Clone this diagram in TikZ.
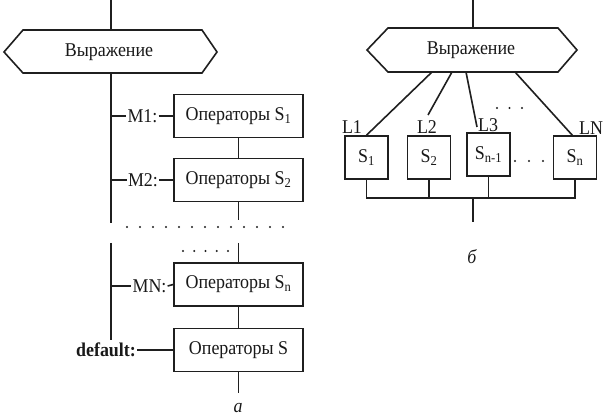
\documentclass[tikz,border=0pt]{standalone}
\usepackage{fontspec}
\setmainfont{Liberation Serif}[FakeStretch=0.92]
\begin{document}
\begin{tikzpicture}[x=1pt,y=-1pt,
  ink/.style={draw=black!88, line width=1.6pt},
  conn/.style={ink},
  opbox/.style={ink, rectangle, minimum width=129pt, minimum height=43pt, inner sep=0pt, font=\fontsize{19.5}{21}\selectfont, text=black!90},
  sbox/.style={ink, rectangle, minimum width=43pt, minimum height=43pt, inner sep=0pt, font=\fontsize{19.5}{21}\selectfont, text=black!90},
  lbl/.style={font=\fontsize{19.5}{21}\selectfont, inner sep=1pt, text=black!90},
  caplbl/.style={font=\fontsize{19.5}{21}\selectfont\itshape, inner sep=0pt, text=black!90},
  dots/.style={draw=black!88, line width=2.4pt, line cap=round}]
\fill[white] (0,0) rectangle (614,419);
\useasboundingbox (0,0) rectangle (614,419);

% ---------- left diagram (a) ----------
\coordinate (t1) at (111,0);
\path (4,52) coordinate (h1w) (23,30) coordinate (h1nw) (202,30) coordinate (h1ne)
      (217,52) coordinate (h1e) (202,73) coordinate (h1se) (23,73) coordinate (h1sw);
\draw[ink] (h1w) -- (h1nw) -- (h1ne) -- (h1e) -- (h1se) -- (h1sw) -- cycle;
\node[lbl] (e1) at (109,52) {Выражение};
\coordinate (h1t) at (111,30);
\coordinate (h1b) at (111,73);
\draw[conn] (t1) -- (h1t);
\coordinate (v1a) at (111,223);
\draw[conn] (h1b) -- (v1a);
\coordinate (v1b) at (111,243);
\coordinate (v1c) at (111,340);
\draw[conn] (v1b) -- (v1c);

\node[opbox] (s1) at (238.5,116) {Операторы S\textsubscript{1}};
\node[opbox] (s2) at (238.5,180) {Операторы S\textsubscript{2}};
\node[opbox] (sn) at (238.5,284.5) {Операторы S\textsubscript{n}};
\node[opbox] (s)  at (238.5,350) {Операторы S};

\draw[conn] (s1) -- (s2);
\coordinate (r1) at (238.5,220);
\draw[conn] (s2) -- (r1);
\coordinate (r2) at (238.5,243);
\draw[conn] (r2) -- (sn);
\draw[conn] (sn) -- (s);
\coordinate (r3) at (238.5,393);
\draw[conn] (s) -- (r3);

\node[lbl] (m1) at (142.5,116) {M1:};
\node[lbl] (m2) at (143,180) {M2:};
\node[lbl] (mn) at (149.5,286) {MN:};
\node[lbl, font=\fontsize{19.5}{21}\selectfont\bfseries] (md) at (106,350) {default:};
\coordinate (j1) at (111,116);
\coordinate (j2) at (111,180);
\coordinate (jn) at (111,286);
\draw[conn] (j1) -- (m1.west); \draw[conn] (m1.east) -- (s1.west);
\draw[conn] (j2) -- (m2.west); \draw[conn] (m2.east) -- (s2.west);
\draw[conn] (jn) -- (mn.west); \draw[conn] (mn.east) -- (sn.west);
\draw[conn] (md.east) -- (s.west);

\draw[dots, dash pattern=on 0pt off 13pt] (127,227) -- (288.2,227);
\draw[dots, dash pattern=on 0pt off 11.25pt] (183,251) -- (228.2,251);

\node[caplbl] (capa) at (238,408) {а};

% ---------- right diagram (b) ----------
\coordinate (t2) at (473,0);
\path (367,50) coordinate (h2w) (388,28) coordinate (h2nw) (558,28) coordinate (h2ne)
      (577,50) coordinate (h2e) (558,72) coordinate (h2se) (388,72) coordinate (h2sw);
\draw[ink] (h2w) -- (h2nw) -- (h2ne) -- (h2e) -- (h2se) -- (h2sw) -- cycle;
\node[lbl] (e2) at (471,50) {Выражение};
\coordinate (h2t) at (473,28);
\draw[conn] (t2) -- (h2t);

\node[sbox] (b1) at (366.5,157.5) {S\textsubscript{1}};
\node[sbox] (b2) at (429,157.5) {S\textsubscript{2}};
\node[sbox] (b3) at (488.5,154.5) {S\textsubscript{n-1}};
\node[sbox] (b4) at (575,157.5) {S\textsubscript{n}};

\node[lbl] (l1) at (352,127) {L1};
\node[lbl] (l2) at (427,127) {L2};
\node[lbl] (l3) at (488,125) {L3};
\node[lbl] (ln) at (591,128) {LN};

\coordinate (hb1) at (432,72);
\coordinate (hb2) at (452,72);
\coordinate (hb3) at (466,72);
\coordinate (hb4) at (515,72);
\coordinate (e2end) at (428,115);
\coordinate (e3end) at (477,127);
\coordinate (e4end) at (573,136);
\draw[conn] (hb1) -- (b1.north);
\draw[conn] (hb2) -- (e2end);
\draw[conn] (hb3) -- (e3end);
\draw[conn] (hb4) -- (e4end);

\coordinate (bl) at (366.5,198);
\coordinate (br) at (575,198);
\coordinate (bm) at (473,198);
\coordinate (bout) at (473,222);
\draw[conn] (b1.south) -- (bl) -- (br) -- (b4.south);
\draw[conn] (b2.south) -- (b2.south |- bl);
\draw[conn] (b3.south) -- (b3.south |- bl);
\draw[conn] (bm) -- (bout);

\draw[dots, dash pattern=on 0pt off 12.5pt] (497,108) -- (522.2,108);
\draw[dots, dash pattern=on 0pt off 14pt] (515,161) -- (543.2,161);

\node[caplbl] (capb) at (472,257) {б};
\end{tikzpicture}
\end{document}
